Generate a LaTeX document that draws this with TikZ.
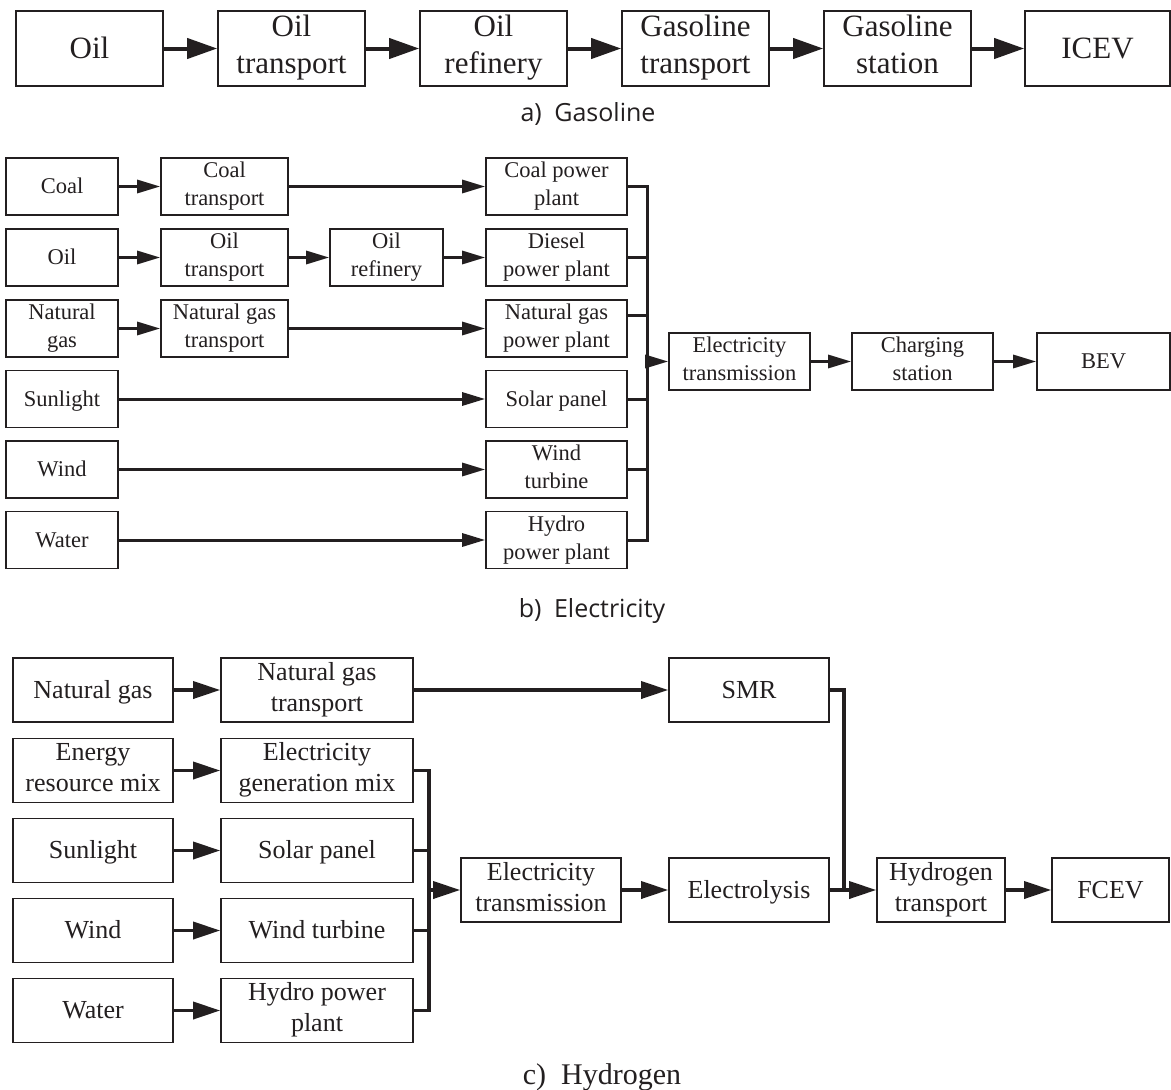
\documentclass[tikz,border=0pt]{standalone}
\usepackage{fontspec}
\setmainfont{Liberation Serif}
\newfontfamily\capfont{Open Sans}
\usetikzlibrary{arrows.meta}

\definecolor{ink}{HTML}{231F20}

\tikzset{
    box/.style={draw=ink, line width=1.6pt, inner sep=0pt, align=center, text=ink,
        execute at begin node={\rule{0pt}{.9em}},
        execute at end node={\rule[-.25em]{0pt}{0pt}}},
    boxa/.style={box, minimum width=147pt, minimum height=75pt,
        font=\fontsize{31}{37}\selectfont},
    boxb/.style={box, minimum height=57pt, font=\fontsize{22.5}{28}\selectfont},
    boxc/.style={box, minimum height=64pt, font=\fontsize{26}{31}\selectfont},
    arra/.style={draw=ink, line width=4pt, -{Triangle[length=30pt,width=20pt]}},
    arrb/.style={draw=ink, line width=3pt, -{Triangle[length=23pt,width=13pt]}},
    arrc/.style={draw=ink, line width=3.5pt, -{Triangle[length=27pt,width=17pt]}},
    lineb/.style={draw=ink, line width=3pt},
    linec/.style={draw=ink, line width=3.5pt},
    capsans/.style={font=\capfont\fontsize{25}{30}\selectfont, text=ink, anchor=base},
}

\begin{document}
\begin{tikzpicture}[x=1pt, y=-1pt]
    \useasboundingbox [fill=white] (0, 0) rectangle (1171, 1090);

    % a) gasoline
    \path (89.5, 48.5) node [boxa] (aoil) {Oil};
    \path (291.5, 48.5) node [boxa] (aot) {Oil\\transport};
    \path (493.5, 48.5) node [boxa] (aor) {Oil\\refinery};
    \path (695.5, 48.5) node [boxa] (agt) {Gasoline\\transport};
    \path (897.5, 48.5) node [boxa] (ags) {Gasoline\\station};
    \path (1097.5, 48.5) node [boxa, minimum width=145pt] (aicev) {ICEV};
    \foreach \a/\b in {aoil/aot, aot/aor, aor/agt, agt/ags, ags/aicev}
        \draw [arra] (\a) -- (\b);
    \path (588, 121) node [capsans] (capa) {a)\hspace{0.5em}Gasoline};

    % b) electricity
    \path (62, 186.5) node [boxb, minimum width=112pt] (bcoal) {Coal};
    \path (224.5, 186.5) node [boxb, minimum width=127pt] (bct) {Coal\\transport};
    \path (556.5, 186.5) node [boxb, minimum width=141pt] (bcpp) {Coal power\\plant};
    \path (62, 257.5) node [boxb, minimum width=112pt] (boil) {Oil};
    \path (224.5, 257.5) node [boxb, minimum width=127pt] (bot) {Oil\\transport};
    \path (386.5, 257.5) node [boxb, minimum width=113pt] (bor) {Oil\\refinery};
    \path (556.5, 257.5) node [boxb, minimum width=141pt] (bdpp) {Diesel\\power plant};
    \path (62, 328.5) node [boxb, minimum width=112pt] (bng) {Natural\\gas};
    \path (224.5, 328.5) node [boxb, minimum width=127pt] (bngt) {Natural gas\\transport};
    \path (556.5, 328.5) node [boxb, minimum width=141pt] (bngpp) {Natural gas\\power plant};
    \path (62, 399) node [boxb, minimum width=112pt] (bsun) {Sunlight};
    \path (556.5, 399) node [boxb, minimum width=141pt] (bsp) {Solar panel};
    \path (62, 469.5) node [boxb, minimum width=112pt] (bwind) {Wind};
    \path (556.5, 469.5) node [boxb, minimum width=141pt] (bwt) {Wind\\turbine};
    \path (62, 540) node [boxb, minimum width=112pt] (bwater) {Water};
    \path (556.5, 540) node [boxb, minimum width=141pt] (bhpp) {Hydro\\power plant};
    \path (739.5, 361.5) node [boxb, minimum width=141pt] (bet) {Electricity\\transmission};
    \path (922.5, 361.5) node [boxb, minimum width=141pt] (bcs) {Charging\\station};
    \path (1103.5, 361.5) node [boxb, minimum width=133pt] (bbev) {BEV};
    \foreach \a/\b in {bcoal/bct, bct/bcpp, boil/bot, bot/bor, bor/bdpp, bng/bngt,
        bngt/bngpp, bsun/bsp, bwind/bwt, bwater/bhpp, bet/bcs, bcs/bbev}
        \draw [arrb] (\a) -- (\b);
    \coordinate (bbust) at (647, 186.5);
    \coordinate (bbusb) at (647, 540);
    \draw [lineb] (bcpp.east) -- (bbust) -- (bbusb) -- (bhpp.east);
    \draw [lineb] (bdpp.east) -- (bdpp.east -| bbust);
    \draw [lineb] ([yshift=13pt]bngpp.east) -- ([yshift=13pt]bngpp.east -| bbust);
    \draw [lineb] (bsp.east) -- (bsp.east -| bbust);
    \draw [lineb] (bwt.east) -- (bwt.east -| bbust);
    \draw [arrb] (bet.west -| bbust) -- (bet.west);
    \path (592, 617) node [capsans] (capb) {b)\hspace{0.5em}Electricity};

    % c) hydrogen
    \path (93, 690) node [boxc, minimum width=160pt] (cng) {Natural gas};
    \path (317, 690) node [boxc, minimum width=192pt] (cngt) {Natural gas\\transport};
    \path (749, 690) node [boxc, minimum width=160pt] (csmr) {SMR};
    \path (93, 770.5) node [boxc, minimum width=160pt] (cerm) {Energy\\resource mix};
    \path (317, 770.5) node [boxc, minimum width=192pt] (cegm) {Electricity\\generation mix};
    \path (93, 850.5) node [boxc, minimum width=160pt] (csun) {Sunlight};
    \path (317, 850.5) node [boxc, minimum width=192pt] (csp) {Solar panel};
    \path (93, 930.5) node [boxc, minimum width=160pt] (cwind) {Wind};
    \path (317, 930.5) node [boxc, minimum width=192pt] (cwt) {Wind turbine};
    \path (93, 1010.5) node [boxc, minimum width=160pt] (cwater) {Water};
    \path (317, 1010.5) node [boxc, minimum width=192pt] (chpp) {Hydro power\\plant};
    \path (541, 890) node [boxc, minimum width=160pt] (cet) {Electricity\\transmission};
    \path (749, 890) node [boxc, minimum width=160pt] (cely) {Electrolysis};
    \path (941, 890) node [boxc, minimum width=128pt] (cht) {Hydrogen\\transport};
    \path (1110.5, 890) node [boxc, minimum width=117pt] (cfcev) {FCEV};
    \foreach \a/\b in {cng/cngt, cngt/csmr, cerm/cegm, csun/csp, cwind/cwt,
        cwater/chpp, cet/cely, cely/cht, cht/cfcev}
        \draw [arrc] (\a) -- (\b);
    \coordinate (cbust) at (429, 770.5);
    \coordinate (cbusb) at (429, 1010.5);
    \draw [linec] (cegm.east) -- (cbust) -- (cbusb) -- (chpp.east);
    \draw [linec] (csp.east) -- (csp.east -| cbust);
    \draw [linec] (cwt.east) -- (cwt.east -| cbust);
    \draw [arrc] (cet.west -| cbust) -- (cet.west);
    \coordinate (csmrd) at (844, 690);
    \draw [linec] (csmr.east) -- (csmrd) -- (csmrd |- cely.east);
    \path (602, 1084) node [anchor=base, font=\fontsize{30}{36}\selectfont, text=ink]
        (capc) {c)~~Hydrogen};
\end{tikzpicture}
\end{document}
